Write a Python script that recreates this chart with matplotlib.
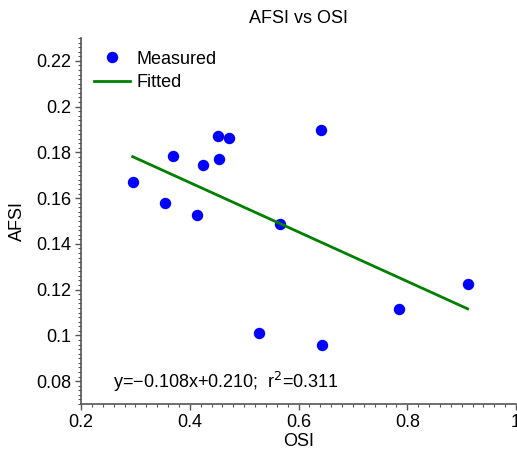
import matplotlib
matplotlib.use("Agg")
import matplotlib.pyplot as plt
from matplotlib.ticker import MultipleLocator, FuncFormatter

plt.rcParams['font.family'] = ['Liberation Sans', 'DejaVu Sans']

# Measured points
osi = [0.295, 0.355, 0.369, 0.4135, 0.425, 0.452, 0.454, 0.472,
       0.641, 0.566, 0.528, 0.644, 0.785, 0.911]
afsi = [0.167, 0.1578, 0.1786, 0.1526, 0.1743, 0.187, 0.177, 0.1865,
        0.190, 0.1487, 0.101, 0.0956, 0.1117, 0.1225]

# Linear fit y = slope*x + intercept
slope = -0.108
intercept = 0.210
r2 = 0.311
fit_x = [min(osi), max(osi)]
fit_y = [slope * v + intercept for v in fit_x]

fig = plt.figure(figsize=(5.17, 4.53), dpi=100)
ax = fig.add_axes([81 / 517, 49 / 453, 435 / 517, 366 / 453])

ax.plot(osi, afsi, 'o', color='#0000ff', markersize=7.2, label='Measured')
ax.plot(fit_x, fit_y, '-', color='#008000', linewidth=2.0, label='Fitted')

ax.set_xlim(0.2, 1.0)
ax.set_ylim(0.07, 0.23)
ax.xaxis.set_major_locator(MultipleLocator(0.2))
ax.xaxis.set_minor_locator(MultipleLocator(0.02))
ax.yaxis.set_major_locator(MultipleLocator(0.02))
ax.yaxis.set_minor_locator(MultipleLocator(0.002))
fmt = FuncFormatter(lambda v, p: '%g' % round(v, 4))
ax.xaxis.set_major_formatter(fmt)
ax.yaxis.set_major_formatter(fmt)

for side in ('top', 'right'):
    ax.spines[side].set_visible(False)
for side in ('left', 'bottom'):
    ax.spines[side].set_color('#555555')
    ax.spines[side].set_linewidth(1.2)

ax.tick_params(which='major', direction='out', length=4, width=1,
               color='#555555', labelsize=13, pad=3)
ax.tick_params(which='minor', direction='out', length=2, width=0.8,
               color='#555555')

ax.set_title('AFSI vs OSI', fontsize=13, pad=11)
ax.set_xlabel('OSI', fontsize=13, labelpad=2)
ax.set_ylabel('AFSI', fontsize=13, labelpad=7)

ax.text(0.258, 0.0797, 'y=\u2212%.3fx+%.3f;  r$^2$=%.3f' % (-slope, intercept, r2),
        fontsize=13, va='center', ha='left')

leg = ax.legend(loc='upper left', frameon=False, fontsize=13,
                handlelength=2.0, handletextpad=0.4, borderaxespad=0.3,
                labelspacing=0.35, bbox_to_anchor=(0.0, 1.0))

fig.savefig('out.png', dpi=100)
